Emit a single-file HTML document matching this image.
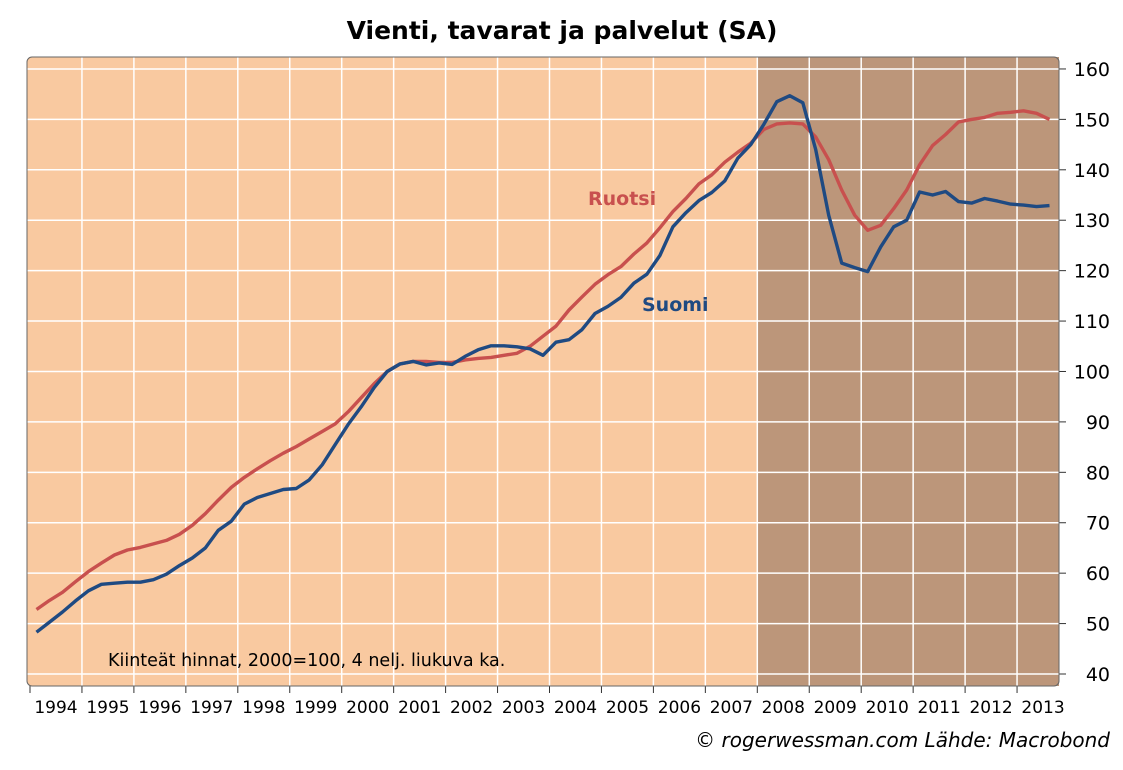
<!DOCTYPE html>
<html><head><meta charset="utf-8"><style>
body{margin:0;background:#fff;}
svg text{font-family:"DejaVu Sans","Liberation Sans",sans-serif;}
</style></head><body>
<svg width="1123" height="765" id="c">
<text x="562" y="39" text-anchor="middle" font-size="25" font-weight="bold">Vienti, tavarat ja palvelut (SA)</text>
<g id="plot"></g>
<text x="1110" y="747" text-anchor="end" font-size="20" font-style="italic">© rogerwessman.com Lähde: Macrobond</text>
</svg>
<script>
const years=[1994,1995,1996,1997,1998,1999,2000,2001,2002,2003,2004,2005,2006,2007,2008,2009,2010,2011,2012,2013];
const yTicks=[40,50,60,70,80,90,100,110,120,130,140,150,160];
const suomi=[48.3,50.3,52.3,54.5, 56.5,57.8,58,58.2, 58.2,58.7,59.8,61.5, 63,65,68.5,70.3, 73.7,75,75.8,76.6, 76.8,78.5,81.5,85.5, 89.5,93,96.8,100, 101.5,102,101.3,101.7, 101.4,103,104.3,105.1, 105.1,104.9,104.5,103.2, 105.8,106.3,108.3,111.5, 112.9,114.7,117.5,119.3, 123,128.7,131.5,133.9, 135.5,137.8,142.3,145, 149,153.5,154.7,153.3, 144,131,121.5,120.6, 119.8,124.7,128.7,130, 135.6,135,135.7,133.7, 133.4,134.3,133.8,133.2, 133,132.7,132.9];
const ruotsi=[52.8,54.6,56.2,58.3, 60.3,62,63.6,64.6, 65.1,65.8,66.5,67.7, 69.5,71.8,74.5,77, 79,80.7,82.3,83.8, 85.1,86.6,88.1,89.6, 92,94.8,97.6,100, 101.5,102,102,101.8, 101.8,102.3,102.6,102.8, 103.2,103.6,105,107, 109,112.2,114.8,117.3, 119.2,120.8,123.3,125.5, 128.5,131.7,134.3,137.2, 139,141.5,143.5,145.3, 148,149.1,149.3,149.1, 146.5,142,136,131, 128,129,132.3,136, 141,144.8,147,149.5, 150,150.4,151.2,151.4, 151.7,151.2,150];
const shadeStart=2008;
const L=27,R=1059,T=57,B=686;
const xs=t=>30+(t-1994)*51.95;
const ys=v=>674-(v-40)*5.042;
const NS='http://www.w3.org/2000/svg';
const g=document.getElementById('plot');
function mk(tag,attrs,parent){const e=document.createElementNS(NS,tag);for(const k in attrs)e.setAttribute(k,attrs[k]);(parent||g).appendChild(e);return e;}
let e;
e=mk('rect',{x:L,y:T,width:R-L,height:B-T,rx:5,fill:'#f9c9a0'});


e=mk('rect',{x:xs(shadeStart),y:T,width:R-xs(shadeStart),height:B-T,fill:'#bc967a'});


yTicks.forEach(v=>{
 e=mk('line',{x1:L,x2:R,y1:ys(v),y2:ys(v),stroke:'#fff','stroke-width':1.5});
 
 
 mk('line',{x1:R,x2:R+7,y1:ys(v),y2:ys(v),stroke:'#333','stroke-width':1});
 e=mk('text',{x:1110,y:ys(v)+7,'text-anchor':'end','font-size':19});
 e.textContent=v;
 
 
});
years.forEach((yr,i)=>{
 const x=xs(yr);
 if(i>0){e=mk('line',{x1:x,x2:x,y1:T,y2:B,stroke:'#fff','stroke-width':1.5});
 
 }
 mk('line',{x1:x,x2:x,y1:B,y2:B+7,stroke:'#333','stroke-width':1});
 e=mk('text',{x:x+26,y:713,'text-anchor':'middle','font-size':17});
 e.textContent=yr;
 
 
});
e=mk('rect',{x:L,y:T,width:R-L,height:B-T,rx:5,fill:'none',stroke:'#666','stroke-width':1});


function line(arr,col,name){
 const pts=arr.map((v,i)=>xs(1994+(i+0.5)/4).toFixed(1)+','+ys(v).toFixed(1)).join(' ');
 const p=mk('polyline',{points:pts,fill:'none',stroke:col,'stroke-width':3.4,'stroke-linejoin':'round'});
 
 
}
line(ruotsi,'#c8504e','line-ruotsi');
line(suomi,'#1f4a82','line-suomi');
e=mk('text',{x:588,y:205,'font-size':19,'font-weight':'bold',fill:'#c8504e'});
e.textContent='Ruotsi';


e=mk('text',{x:642,y:311,'font-size':19,'font-weight':'bold',fill:'#1f4a82'});
e.textContent='Suomi';


e=mk('text',{x:108,y:666,'font-size':17.5});
e.textContent='Kiinteät hinnat, 2000=100, 4 nelj. liukuva ka.';


</script>
</body></html>
